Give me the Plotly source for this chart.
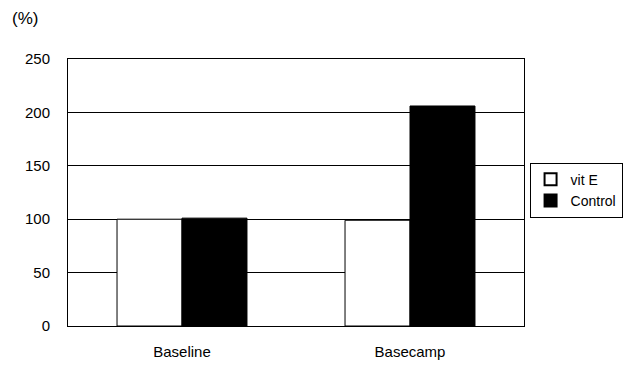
import plotly.graph_objects as go

categories = ["Baseline", "Basecamp"]
vit_e = [100, 99]
control = [101, 206]
y_ticks = [0, 50, 100, 150, 200, 250]

fig = go.Figure()
fig.add_trace(go.Bar(name="vit E", x=categories, y=vit_e,
                     marker=dict(color="white", line=dict(color="black", width=1))))
fig.add_trace(go.Bar(name="Control", x=categories, y=control,
                     marker=dict(color="black", line=dict(color="black", width=1))))

fig.update_layout(
    width=634, height=365,
    margin=dict(l=68, r=109, t=59, b=39),
    paper_bgcolor="white", plot_bgcolor="white",
    barmode="group", bargap=0.43, bargroupgap=0,
    font=dict(family="Liberation Sans, Arial, sans-serif", color="black", size=14),
    showlegend=True,
    legend=dict(x=1.01, y=0.612, xanchor="left", yanchor="top",
                bordercolor="black", borderwidth=1, bgcolor="white",
                font=dict(size=14), tracegroupgap=0, itemwidth=30,
                itemsizing="constant"),
    annotations=[dict(text="(%)", xref="paper", yref="paper", x=-0.127, y=1.11,
                      xanchor="left", yanchor="bottom", showarrow=False,
                      font=dict(size=17))],
)
fig.update_yaxes(range=[0, 250], tickvals=y_ticks, showgrid=True, gridcolor="black",
                 gridwidth=1, showline=True, linecolor="black", mirror=True,
                 ticks="", tickfont=dict(size=15), zeroline=False,
                 ticklabelstandoff=14, automargin=False)
fig.update_xaxes(showline=True, linecolor="black", mirror=True, ticks="",
                 tickfont=dict(size=15), ticklabelstandoff=12, automargin=False)

fig.write_html("out.html")
